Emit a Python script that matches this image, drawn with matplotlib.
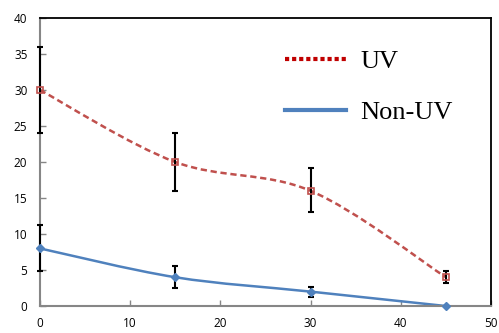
import numpy as np
import matplotlib.pyplot as plt
from matplotlib.path import Path
from matplotlib.patches import PathPatch
from matplotlib.lines import Line2D

# data
x = [0, 15, 30, 45]
uv = [30, 20, 16, 4]
uv_lo = [24, 16, 13, 3.2]
uv_hi = [36, 24, 19.2, 4.8]
non_uv = [8, 4, 2, 0]
non_lo = [4.8, 2.5, 1.3, 0]
non_hi = [11.2, 5.6, 2.7, 0]

red = "#C0504D"
blue = "#4F81BD"
gray = "#868686"


def smooth_path(xs, ys):
    # Excel-style smoothed line: cubic Bezier through the points
    pts = np.column_stack([xs, ys]).astype(float)
    ext = np.vstack([pts[0], pts, pts[-1]])
    verts = [pts[0]]
    codes = [Path.MOVETO]
    for i in range(len(pts) - 1):
        p0, p1, p2, p3 = ext[i], ext[i + 1], ext[i + 2], ext[i + 3]
        verts += [p1 + (p2 - p0) / 6, p2 - (p3 - p1) / 6, p2]
        codes += [Path.CURVE4] * 3
    return Path(verts, codes)


fig = plt.figure(figsize=(4.99, 3.33), dpi=100)
ax = fig.add_axes([0.080, 0.081, 0.904, 0.865])

ax.add_patch(PathPatch(smooth_path(x, uv), fill=False, ec=red, lw=1.8,
                       ls=(0, (2.5, 1.5)), zorder=2))
ax.add_patch(PathPatch(smooth_path(x, non_uv), fill=False, ec=blue, lw=1.8,
                       zorder=2))

uv_err = [np.subtract(uv, uv_lo), np.subtract(uv_hi, uv)]
non_err = [np.subtract(non_uv, non_lo), np.subtract(non_hi, non_uv)]
for xs, ys, err in [(x, uv, uv_err), (x[:3], non_uv[:3], [e[:3] for e in non_err])]:
    eb = ax.errorbar(xs, ys, yerr=err, fmt="none", ecolor="black", elinewidth=1.5,
                     capsize=2, capthick=1.5, zorder=3)
    for art in eb.lines[1] + eb.lines[2]:
        art.set_clip_on(False)
ax.plot(x, uv, ls="none", marker="s", ms=5, mfc="none", mec=red, mew=1.2,
        zorder=4, clip_on=False)
ax.plot(x, non_uv, ls="none", marker="D", ms=4, color=blue, zorder=4,
        clip_on=False)

ax.set_xlim(0, 50)
ax.set_ylim(0, 40)
ax.set_xticks(range(0, 51, 10))
ax.set_yticks(range(0, 41, 5))
for s in ["left", "bottom"]:
    ax.spines[s].set_color(gray)
    ax.spines[s].set_linewidth(1.5)
for s in ["top", "right"]:
    ax.spines[s].set_color("black")
    ax.spines[s].set_linewidth(1.3)
ax.tick_params(direction="in", length=4, color=gray, width=1, labelsize=8.5)
ax.tick_params(axis="x", pad=8)
ax.tick_params(axis="y", pad=9)
for lab in ax.get_xticklabels() + ax.get_yticklabels():
    lab.set_family("Open Sans")

handles = [Line2D([], [], color="#C00000", lw=3, ls=(0, (1, 0.7))),
           Line2D([], [], color=blue, lw=3)]
ax.legend(handles, ["UV", "Non-UV"], loc="upper left",
          bbox_to_anchor=(0.543, 0.89), frameon=False, borderpad=0,
          borderaxespad=0, handlelength=2.3, handletextpad=0.57,
          labelspacing=1.05, prop={"family": "Liberation Serif", "size": 19})

fig.savefig("out.png", dpi=100)
